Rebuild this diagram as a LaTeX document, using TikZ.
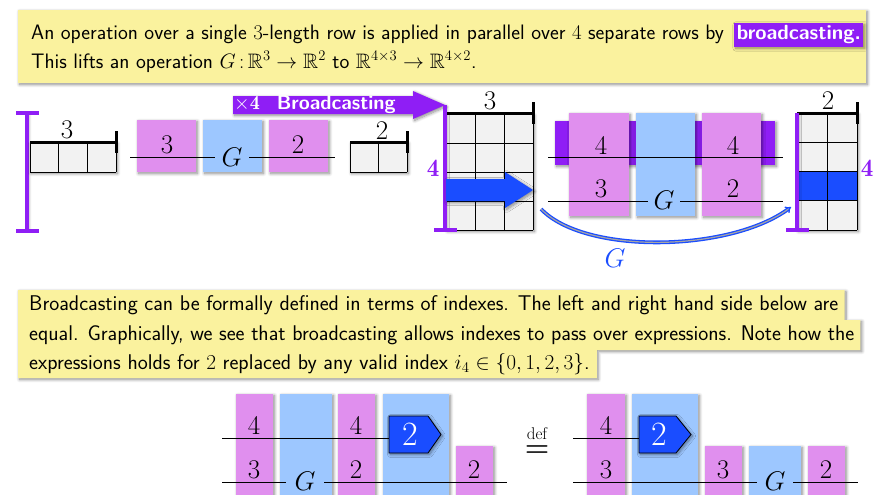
\RequirePackage{fix-cm}
\documentclass[tikz,border=0pt]{standalone}
\usepackage{amsmath,amssymb,bm}
\usepackage{fontspec}
\usetikzlibrary{shadows.blur,arrows.meta,calc}
\definecolor{hlyellow}{RGB}{250,242,158}
\definecolor{mypurple}{RGB}{143,30,245}
\definecolor{mypink}{RGB}{224,143,238}
\definecolor{myblue}{RGB}{157,199,255}
\definecolor{mydblue}{RGB}{26,77,255}
\definecolor{mygray}{RGB}{242,242,242}
\newcommand\mkgrid[6]{%
  \fill[mygray,shad] (#1,#2) rectangle ({#1+#3*#5},{#2+#4*#6});
  \foreach \i in {0,...,#3} \draw[cellline] ({#1+\i*#5},#2) -- ({#1+\i*#5},{#2+#4*#6});
  \foreach \j in {0,...,#4} \draw[cellline] (#1,{#2+\j*#6}) -- ({#1+#3*#5},{#2+\j*#6});
}
\newcommand\lineA{Broadcasting can be formally defined in terms of indexes. The left and right hand side below are}
\newcommand\lineB{equal. Graphically, we see that broadcasting allows indexes to pass over expressions. Note how the}
\newcommand\lineC{expressions holds for $2$ replaced by any valid index $i_4 \in \{0,1,2,3\}$.}
\begin{document}
\begin{tikzpicture}[x=1pt,y=-1pt,
  shad/.style={blur shadow={shadow xshift=1.5pt,shadow yshift=-1.5pt,shadow blur radius=3pt,shadow blur steps=8,shadow opacity=45}},
  boxnode/.style 2 args={minimum width=#1pt,minimum height=#2pt,anchor=north west,inner sep=0pt,outer sep=0pt},
  pinkbox/.style={fill=mypink,shad},
  bluebox/.style={fill=myblue,shad},
  wire/.style={line width=0.9pt},
  dig/.style={font=\fontsize{27}{27}\selectfont,inner sep=0pt},
  wdig/.style={font=\fontsize{34}{34}\selectfont,inner sep=0pt,text=white},
  pdig/.style={font=\fontsize{25}{25}\selectfont,inner sep=0pt,text=mypurple},
  para/.style={font=\sffamily\fontsize{21.3}{26}\selectfont,anchor=base west,inner sep=0pt},
  toppara/.style={para,font=\sffamily\fontsize{20.9}{26}\selectfont},
  cellline/.style={line width=0.9pt},
  dimbar/.style={line width=3pt},
  pbar/.style={draw=mypurple,line width=4.5pt,shad},
  pent/.style={fill=mydblue,draw=black,line width=0.8pt,shad},
]
\useasboundingbox (0,0) rectangle (875,495);
\clip (0,0) rectangle (875,495);

% ---------- top text box ----------
\fill[hlyellow,shad] (18,10) rectangle (866,83);
\node[toppara] (t1) at (31,40) {An operation over a single $3$-length row is applied in parallel over $4$ separate rows by};
\node[anchor=base west,fill=mypurple,text=white,font=\sffamily\bfseries\fontsize{20.5}{26}\selectfont,inner sep=2.5pt,shad] (hl) at ($(t1.base east)+(10,0)$) {broadcasting.};
\node[toppara] (t2) at (31,68) {This lifts an operation $G\,{:}\,\mathbb{R}^3\to\mathbb{R}^2$ to $\mathbb{R}^{4\times3}\to\mathbb{R}^{4\times2}$.};

% ---------- row diagram (left) ----------
\draw[pbar] (27,113) -- (27,231);
\draw[draw=mypurple,line width=4pt] (16,113) -- (39,113) (16,231) -- (39,231);
\mkgrid{30}{142}{3}{1}{28.67}{30}
\draw[dimbar] (30,142) -- (116,142);
\draw[dimbar] (116,131) -- (116,153);
\node[dig] (g1l) at (67,130) {$3$};

\node[pinkbox,boxnode={59}{52}] (a1) at (137,120) {};
\node[bluebox,boxnode={59}{52}] (b1) at (203,120) {};
\node[pinkbox,boxnode={59}{52}] (c1) at (269,120) {};
\node[dig] at (167,145) {$3$};
\node[dig] (G1) at (232,157) {$G$};
\node[dig] at (298,145) {$2$};
\coordinate (w1s) at (130,157);
\coordinate (w1e) at (335,157);
\draw[wire] (w1s) -- (215,157) (249,157) -- (w1e);

\mkgrid{350}{142}{2}{1}{28.5}{30}
\draw[dimbar] (350,142) -- (407,142);
\draw[dimbar] (407,131) -- (407,153);
\node[dig] at (382,131) {$2$};

% ---------- broadcasting arrow ----------
\fill[mypurple,shad] (233,96) -- (413,96) -- (413,91) -- (445,105) -- (413,119) -- (413,114) -- (233,114) -- cycle;
\node[anchor=west,inner sep=0pt,text=white,font=\sffamily\bfseries\fontsize{20}{20}\selectfont] (bc) at (234,105) {$\times\mathbf{4}$\hspace{17pt}Broadcasting};

% ---------- 4x3 grid ----------
\mkgrid{446}{114}{3}{4}{29}{29}
\draw[dimbar] (446,113) -- (533,113);
\draw[dimbar] (533,102) -- (533,124);
\node[dig] at (490,101) {$3$};
\draw[pbar] (445,105) -- (445,230);
\draw[draw=mypurple,line width=4pt] (434,230) -- (457,230);
\node[pdig] at (433,168) {$\mathbf{4}$};
\fill[mydblue,shad] (446,179) -- (505,179) -- (505,172) -- (533,190) -- (505,208) -- (505,201) -- (446,201) -- cycle;

% ---------- middle broadcast panel ----------
\fill[mypurple,shad] (555,121) rectangle (775,165);
\node[pinkbox,boxnode={60}{103}] (a2) at (569,113) {};
\node[bluebox,boxnode={59}{103}] (b2) at (636,113) {};
\node[pinkbox,boxnode={59}{103}] (c2) at (702,113) {};
\node[dig] at (601,146) {$4$};
\node[dig] at (733,146) {$4$};
\node[dig] at (601,189) {$3$};
\node[dig] (G2) at (664,200) {$G$};
\node[dig] at (733,189) {$2$};
\coordinate (w2s) at (548,157);
\coordinate (w2e) at (783,157);
\coordinate (w3s) at (548,201);
\coordinate (w3e) at (783,201);
\draw[wire] (w2s) -- (w2e);
\draw[wire] (w3s) -- (648,201) (680,201) -- (w3e);

% ---------- 4x2 grid ----------
\fill[mygray,shad] (797,113) rectangle (857,230);
\fill[mydblue] (797,172) rectangle (857,201);
\foreach \i in {0,1,2} \draw[cellline] ({797+\i*30},113) -- ({797+\i*30},230);
\foreach \j in {0,...,4} \draw[cellline] (797,{113+\j*29.25}) -- (857,{113+\j*29.25});
\draw[dimbar] (797,113) -- (857,113);
\draw[dimbar] (857,102) -- (857,124);
\node[dig] at (828,101) {$2$};
\draw[pbar] (797,113) -- (797,230);
\draw[draw=mypurple,line width=4pt] (786,230) -- (809,230);
\node[pdig] at (867,168) {$\mathbf{4}$};

% ---------- curved G arrow ----------
\coordinate (cs) at (541,209);
\coordinate (ce) at (791,207);
\draw[draw=mydblue,line width=1.3pt,double=black!35,double distance=1.2pt,-{Implies}] (cs) .. controls (585,255) and (730,252) .. (ce);
\node[dig,text=mydblue] at (615,258) {$G$};

% ---------- bottom text box ----------
\node[para,text opacity=0] (l1) at (29,310) {\lineA};
\node[para,text opacity=0] (l2) at (29,340) {\lineB};
\node[para,text opacity=0] (l3) at (29,369) {\lineC};
\coordinate (r1) at ($(l1.east)+(6,0)$);
\coordinate (r2) at ($(l2.east)+(6,0)$);
\coordinate (r3) at ($(l3.east)+(7,0)$);
\fill[hlyellow,shad] (18,290) -- (r1 |- 0,290) -- (r1 |- 0,320) -- (r2 |- 0,320) -- (r2 |- 0,350) -- (r3 |- 0,350) -- (r3 |- 0,378) -- (18,378) -- cycle;
\node[para] at (l1.base west) {\lineA};
\node[para] at (l2.base west) {\lineB};
\node[para] at (l3.base west) {\lineC};

% ---------- bottom left expression ----------
\node[pinkbox,boxnode={37}{110}] at (236,394) {};
\node[bluebox,boxnode={52}{110}] at (280,394) {};
\node[pinkbox,boxnode={37}{110}] at (338,394) {};
\node[bluebox,boxnode={66}{110}] at (383,394) {};
\node[pinkbox,boxnode={37}{60}] at (456,446) {};
\node[dig] at (254,426) {$4$};
\node[dig] at (356,426) {$4$};
\node[dig] at (254,470) {$3$};
\node[dig] (G3) at (305,481) {$G$};
\node[dig] at (356,470) {$2$};
\node[dig] at (474,470) {$2$};
\draw[pent] (389,416) -- (428,416) -- (441,434.5) -- (428,453) -- (389,453) -- cycle;
\node[wdig] (p1) at (410,434.5) {$2$};
\coordinate (w4s) at (222,438);
\coordinate (p1w) at (389,438);
\draw[wire] (w4s) -- (p1w);
\coordinate (w5s) at (222,482);
\coordinate (w5e) at (507,482);
\draw[wire] (w5s) -- (286,482) (324,482) -- (w5e);

% ---------- def ----------
\node[inner sep=0pt,font=\fontsize{17}{17}\selectfont] (defw) at (537,434) {$\mathrm{def}$};
\node[inner sep=0pt,font=\fontsize{28}{28}\selectfont] (defeq) at (537,451) {$\bm{=}$};

% ---------- bottom right expression ----------
\node[pinkbox,boxnode={38}{110}] at (587,394) {};
\node[bluebox,boxnode={66}{110}] at (632,394) {};
\node[pinkbox,boxnode={37}{60}] at (705,446) {};
\node[bluebox,boxnode={52}{60}] at (749,446) {};
\node[pinkbox,boxnode={37}{60}] at (808,446) {};
\node[dig] at (606,426) {$4$};
\node[dig] at (606,470) {$3$};
\node[dig] at (723,470) {$3$};
\node[dig] (G4) at (775,481) {$G$};
\node[dig] at (826,470) {$2$};
\draw[pent] (639,416) -- (676,416) -- (691,434.5) -- (676,453) -- (639,453) -- cycle;
\node[wdig] (p2) at (659,434.5) {$2$};
\coordinate (w6s) at (573,438);
\coordinate (p2w) at (639,438);
\draw[wire] (w6s) -- (p2w);
\coordinate (w7s) at (573,482);
\coordinate (w7e) at (858,482);
\draw[wire] (w7s) -- (757,482) (793,482) -- (w7e);
\end{tikzpicture}
\end{document}
